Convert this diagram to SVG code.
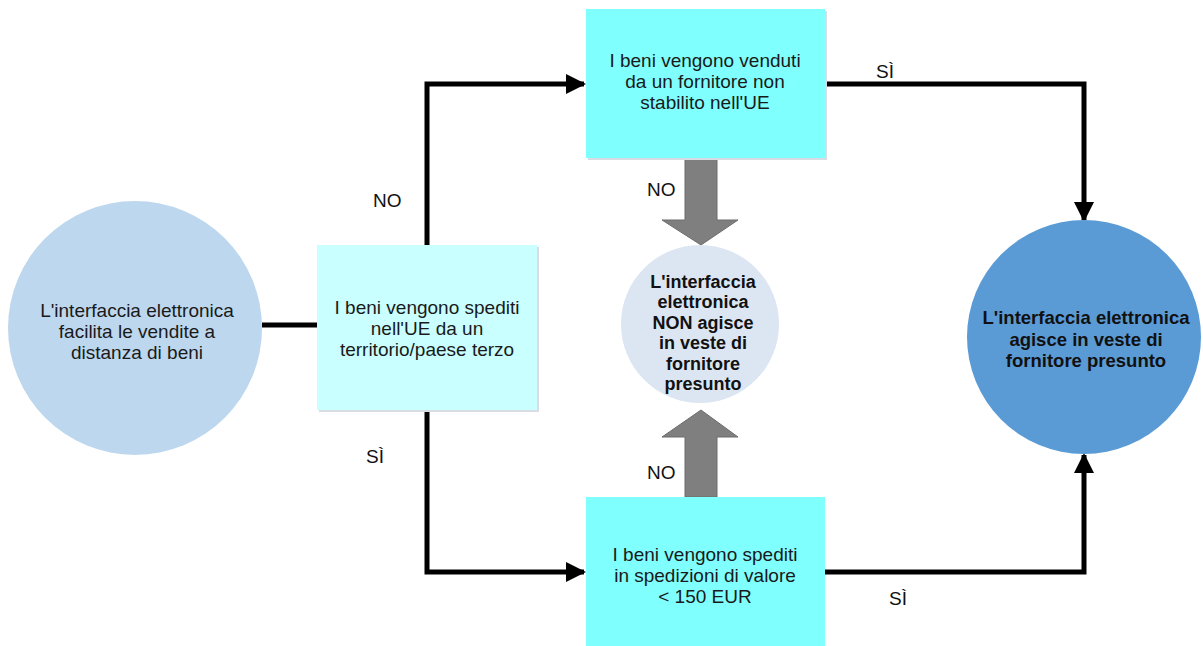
<svg xmlns="http://www.w3.org/2000/svg" width="1203" height="646" viewBox="0 0 1203 646">
<defs>
<style>
.t{font-family:"Liberation Sans",Arial,sans-serif;font-size:19px;fill:#1a1a1a;text-anchor:middle}
.b{font-weight:bold;font-size:18px;fill:#111}
.lbl{font-family:"Liberation Sans",Arial,sans-serif;font-size:19px;fill:#111}
.ln{fill:none;stroke:#000;stroke-width:5;stroke-linejoin:miter}
.gray{fill:#7f7f7f;stroke:#6d6d6d;stroke-width:1}
.sh{fill:#d9dde3}
</style>
<marker id="ah" viewBox="0 0 10 10" refX="9" refY="5" markerWidth="4" markerHeight="4" orient="auto" markerUnits="strokeWidth">
<path d="M0,0 L10,5 L0,10 Z" fill="#000"/>
</marker>
</defs>
<rect width="1203" height="646" fill="#fff"/>
<g id="connectors">
<line class="ln" x1="262" y1="325" x2="318" y2="325"/>
<polyline class="ln" points="427,245 427,84 584,84" marker-end="url(#ah)"/>
<polyline class="ln" points="427,410 427,572 584,572" marker-end="url(#ah)"/>
<polyline class="ln" points="825,84 1084,84 1084,220" marker-end="url(#ah)"/>
<polyline class="ln" points="825,572 1084,572 1084,455" marker-end="url(#ah)"/>
<polygon class="gray" points="685,158 717,158 717,220 738,220 701,245 662,220 685,220"/>
<polygon class="gray" points="685,497 717,497 717,437 738,437 701,410 662,437 685,437"/>
<text class="lbl" x="373" y="207">NO</text>
<text class="lbl" x="366" y="463">SÌ</text>
<text class="lbl" x="876" y="78">SÌ</text>
<text class="lbl" x="889" y="605">SÌ</text>
<text class="lbl" x="647" y="196">NO</text>
<text class="lbl" x="647" y="479">NO</text>
</g>
<g id="start">
<circle cx="135" cy="328" r="127" fill="#bdd7ee"/>
<text class="t" x="137" y="317">L'interfaccia elettronica</text>
<text class="t" x="137" y="338">facilita le vendite a</text>
<text class="t" x="137" y="359">distanza di beni</text>
</g>
<g id="q1">
<rect class="sh" x="319" y="247" width="220" height="165"/>
<rect x="317" y="245" width="220" height="165" fill="#c9ffff"/>
<text class="t" x="427" y="314">I beni vengono spediti</text>
<text class="t" x="427" y="335">nell'UE da un</text>
<text class="t" x="427" y="356">territorio/paese terzo</text>
</g>
<g id="q2">
<rect class="sh" x="588" y="11" width="239" height="149"/>
<rect x="586" y="9" width="239" height="149" fill="#80ffff"/>
<text class="t" x="705" y="67">I beni vengono venduti</text>
<text class="t" x="705" y="88">da un fornitore non</text>
<text class="t" x="705" y="109">stabilito nell'UE</text>
</g>
<g id="q3">
<rect x="586" y="497" width="239" height="150" fill="#80ffff"/>
<text class="t" x="705" y="561">I beni vengono spediti</text>
<text class="t" x="705" y="582">in spedizioni di valore</text>
<text class="t" x="705" y="603">&lt; 150 EUR</text>
</g>
<g id="no">
<circle cx="700" cy="324" r="79" fill="#dce6f2"/>
<text class="t b" x="703" y="288">L'interfaccia</text>
<text class="t b" x="703" y="308">elettronica</text>
<text class="t b" x="703" y="329">NON agisce</text>
<text class="t b" x="703" y="349">in veste di</text>
<text class="t b" x="703" y="370">fornitore</text>
<text class="t b" x="703" y="390">presunto</text>
</g>
<g id="yes">
<circle cx="1084" cy="337" r="117" fill="#5b9bd5"/>
<text class="t b" x="1086" y="324" style="font-size:18.5px">L'interfaccia elettronica</text>
<text class="t b" x="1086" y="346" style="font-size:18.5px">agisce in veste di</text>
<text class="t b" x="1086" y="367" style="font-size:18.5px">fornitore presunto</text>
</g>
</svg>
